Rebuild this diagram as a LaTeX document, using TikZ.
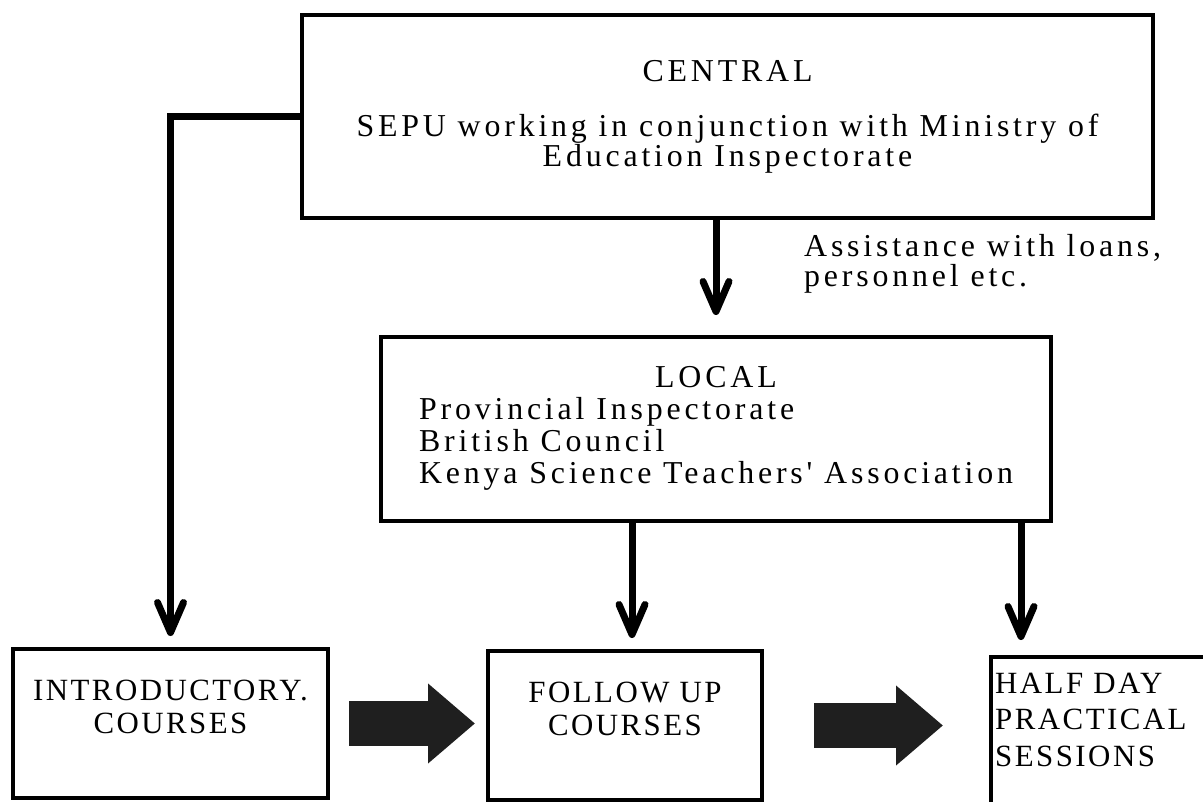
\documentclass[tikz,border=0pt]{standalone}
\usepackage{fontspec}
\newfontfamily\typed{Liberation Serif}[LetterSpace=12]
\newfontfamily\typedcaps{Liberation Serif}[LetterSpace=8]
\usetikzlibrary{arrows.meta,positioning}

\begin{document}
\begin{tikzpicture}[x=1bp,y=-1bp,
        box/.style={rectangle,draw,line width=4bp,inner sep=0pt},
        words/.style={inner sep=0pt,font=\typed\fontsize{32}{32}\selectfont},
        capwords/.style={inner sep=0pt,font=\typedcaps\fontsize{31}{33}\selectfont},
        link/.style={line width=7bp,-{Straight Barb[length=30bp,width=26bp,line width=7bp,round]}},
        fat arrow/.style={line width=45bp,draw=black!88,-{Triangle[length=47bp,width=77bp]}}]
    \useasboundingbox (0,0) rectangle (1203,802);
    \clip (0,0) rectangle (1203,802);
    % boxes
    \node [box, words, minimum width=851bp, minimum height=203bp, align=center] (central) at (727.5,116.5) {CENTRAL\\[23bp] SEPU working in conjunction with Ministry of\\[-2bp] Education Inspectorate};
    \node [box, words, minimum width=670bp, minimum height=184bp] (local) at (716,429) {\begin{tabular}{@{}l@{}}\multicolumn{1}{c}{LOCAL}\\ Provincial Inspectorate\\ British Council\\ Kenya Science Teachers' Association\end{tabular}};
    \node [box, minimum width=315bp, minimum height=149bp] (intro) at (170.5,723.5) {};
    \node [box, minimum width=274bp, minimum height=149bp] (follow) at (625,725.5) {};
    \node [box, minimum width=260bp, minimum height=170bp] (half) at (1121,742) {};
    % texts
    \node [words, align=left, anchor=north west] (aid) at (804,234) {Assistance with loans,\\[-2bp] personnel etc.};
    \node [capwords, align=center, below=33bp of intro.north] (introtext) {INTRODUCTORY.\\ COURSES};
    \node [capwords, align=center, below=33bp of follow.north] (followtext) {FOLLOW UP\\ COURSES};
    \node [capwords, font=\typedcaps\fontsize{31}{36.5}\selectfont, align=left, below right=18bp and 6bp of half.north west] (halftext) {HALF DAY\\ PRACTICAL\\ SESSIONS};
    \coordinate (followtop) at ([xshift=7bp]follow.north);
    \coordinate (halftop) at ([xshift=32bp]half.north west);
    % connectors
    \draw [link, shorten >=11bp] (central.west) -| (intro.north);
    \draw [link, shorten >=20bp] (central.south -| local.north) -- (local.north);
    \draw [link, shorten >=11bp] (local.south -| followtop) -- (followtop);
    \draw [link, shorten >=15bp] (local.south -| halftop) -- (halftop);
    \draw [fat arrow, shorten <=19bp, shorten >=11bp] (intro.east) -- (intro.east -| follow.west);
    \draw [fat arrow, shorten <=50bp, shorten >=46bp] (follow.east) -- (follow.east -| half.west);
\end{tikzpicture}
\end{document}
